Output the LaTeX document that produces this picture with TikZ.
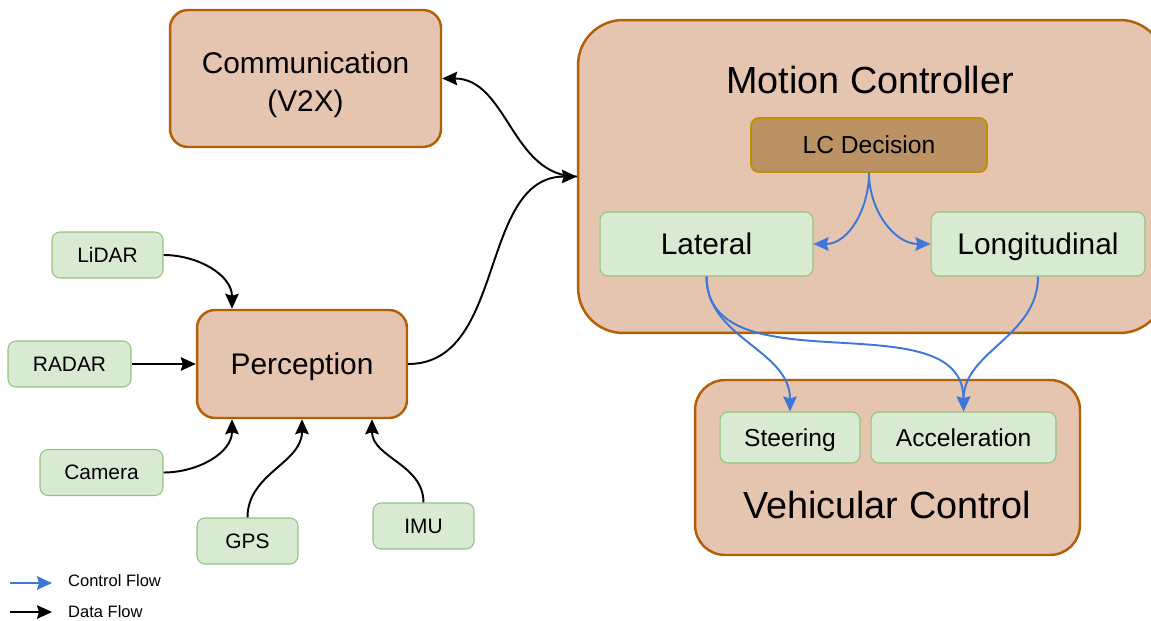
\documentclass[tikz,border=0pt]{standalone}
\usepackage{fontspec}
\setmainfont{Liberation Sans}
\definecolor{stackFill}{HTML}{E5C4B0}
\definecolor{stackEdge}{HTML}{B45F06}
\definecolor{decisionFill}{HTML}{BA9264}
\definecolor{decisionEdge}{HTML}{BF9000}
\definecolor{sensorFill}{HTML}{D9EAD3}
\definecolor{sensorEdge}{HTML}{93C47D}
\definecolor{controlBlue}{HTML}{3C78D8}
\usetikzlibrary{arrows.meta, positioning, calc}

\begin{document}
\begin{tikzpicture}[
        x=0.02cm, y=-0.02cm,
        node distance=0.2cm,
        bigtext/.style={font=\fontsize{17}{21.5}\selectfont, text height=15.9pt, text depth=3.7pt},
        midtext/.style={font=\fontsize{14}{17}\selectfont, text height=13.1pt, text depth=3.1pt},
        smalltext/.style={font=\fontsize{11.9}{14}\selectfont, text height=11.1pt, text depth=2.6pt},
        stackbox/.style={
          rounded corners=0.36cm,
          draw=stackEdge,
          fill=stackFill,
          line width=1.4pt,
          align=center,
          inner sep=0pt,
          bigtext,
        },
        decisionbox/.style={
          rounded corners=0.16cm,
          draw=decisionEdge,
          fill=decisionFill,
          line width=1.1pt,
          minimum width=4.72cm,
          minimum height=1.08cm,
          inner sep=0pt,
          midtext,
        },
        sensorbox/.style={
          rounded corners=0.16cm,
          draw=sensorEdge,
          fill=sensorFill,
          line width=0.6pt,
          minimum height=0.92cm,
          inner sep=0pt,
          smalltext,
        },
        title/.style={font=\fontsize{21.5}{26}\selectfont},
        dataarr/.style={-{Stealth[length=0.3cm, width=0.27cm, inset=0.04cm]}, black, line width=1.1pt},
        ctrlarr/.style={-{Stealth[length=0.3cm, width=0.27cm, inset=0.04cm]}, controlBlue, line width=1.1pt},
      ]
        \useasboundingbox (0,0) rectangle (1151,621);
        \clip (0,0) rectangle (1151,621);

        \node[stackbox, minimum width=5.42cm, minimum height=2.74cm, text height=41pt] (comm) at (305.5,78.5) {Communication\\(V2X)};
        \node[stackbox, rounded corners=0.9cm, minimum width=11.74cm, minimum height=6.26cm] (mc) at (871.5,176.5) {};
        \node[title] (mctitle) at (870,80) {Motion Controller};
        \node[decisionbox] (lc) at (869,145) {LC Decision};
        \node[sensorbox, minimum width=4.26cm, minimum height=1.28cm, bigtext] (lat) at (706.5,244) {Lateral};
        \node[sensorbox, minimum width=4.28cm, minimum height=1.28cm, bigtext] (lon) at (1038,244) {Longitudinal};

        \node[stackbox, minimum width=4.2cm, minimum height=2.16cm] (perc) at (302,364) {Perception};
        \node[stackbox, rounded corners=0.6cm, minimum width=7.7cm, minimum height=3.5cm] (vc) at (887.5,467.5) {};
        \node[title] (vctitle) at (887,505) {Vehicular Control};
        \node[sensorbox, minimum width=2.8cm, minimum height=1.02cm, midtext] (steer) at (790,437.5) {Steering};
        \node[sensorbox, minimum width=3.7cm, minimum height=1.02cm, midtext, right=of steer] (accel) {Acceleration};

        \node[sensorbox, minimum width=2.22cm] (lidar) at (107.5,255) {LiDAR};
        \node[sensorbox, minimum width=2.46cm] (radar) at (69.5,364) {RADAR};
        \node[sensorbox, minimum width=2.46cm] (camera) at (101.5,472.5) {Camera};
        \node[sensorbox, minimum width=2.02cm] (gps) at (247.5,541) {GPS};
        \node[sensorbox, minimum width=2.02cm] (imu) at (423.5,526) {IMU};

        \draw[dataarr, {Stealth[length=0.3cm, width=0.27cm, inset=0.04cm]}-] (comm.east) to[out=0, in=180] (mc.west);
        \draw[dataarr] (perc.east) to[out=0, in=180] (mc.west);
        \draw[dataarr] (lidar.east) to[out=0, in=90] ($(perc.north)+(-70,0)$);
        \draw[dataarr] (radar.east) -- (perc.west);
        \draw[dataarr] (camera.east) to[out=0, in=-90] ($(perc.south)+(-70,0)$);
        \draw[dataarr] (gps.north) to[out=90, in=-90] (perc.south);
        \draw[dataarr] (imu.north) to[out=90, in=-90] ($(perc.south)+(70,0)$);

        \draw[ctrlarr] (lc.south) to[out=-90, in=0] (lat.east);
        \draw[ctrlarr] (lc.south) to[out=-90, in=180] (lon.west);
        \draw[ctrlarr] (lat.south) to[out=-90, in=90] (steer.north);
        \draw[ctrlarr] (lat.south) to[out=-90, in=90] (accel.north);
        \draw[ctrlarr] (lon.south) to[out=-90, in=90] (accel.north);

        \coordinate (ctrlstart) at (10,583);
        \coordinate (ctrlend) at (52,583);
        \coordinate (datastart) at (10,612);
        \coordinate (dataend) at (52,612);
        \node[anchor=west, font=\fontsize{9.4}{11}\selectfont] (ctrllabel) at (62,581) {Control Flow};
        \node[anchor=west, font=\fontsize{9.4}{11}\selectfont] (datalabel) at (62,612) {Data Flow};
        \draw[ctrlarr] (ctrlstart) -- (ctrlend);
        \draw[dataarr] (datastart) -- (dataend);
      \end{tikzpicture}
\end{document}
